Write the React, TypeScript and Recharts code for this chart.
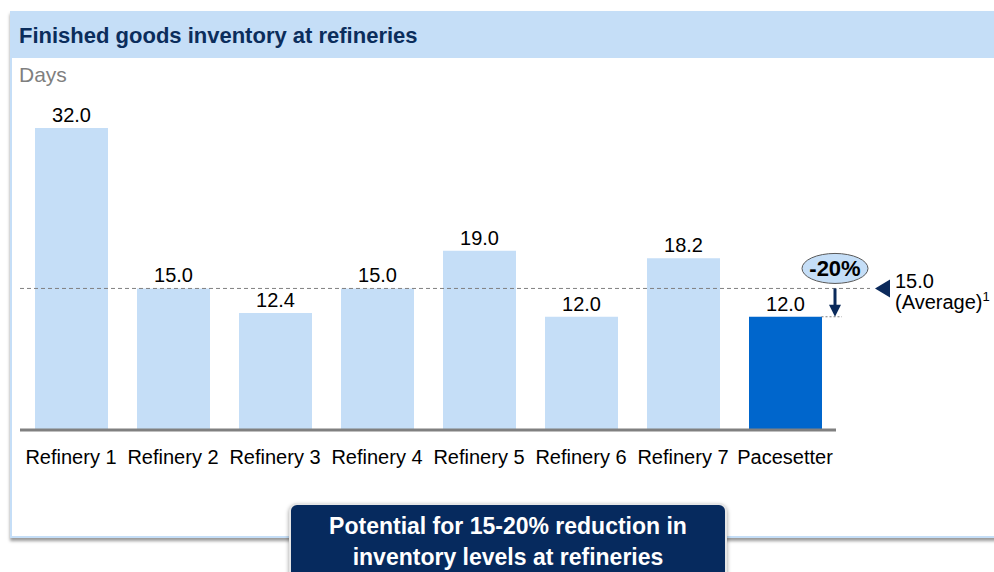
import { BarChart, Bar, XAxis, YAxis, Cell, LabelList, ReferenceLine } from 'recharts';

const categories = [
  'Refinery 1',
  'Refinery 2',
  'Refinery 3',
  'Refinery 4',
  'Refinery 5',
  'Refinery 6',
  'Refinery 7',
  'Pacesetter',
];
const inventoryDays = [32.0, 15.0, 12.4, 15.0, 19.0, 12.0, 18.2, 12.0];
const averageDays = 15.0;
const pacesetterDays = 12.0;
const reductionLabel = '-20%';

const LIGHT = '#C5DEF7';
const DARK = '#0066CC';
const NAVY = '#0B2A5B';
const FONT = '"Liberation Sans", Arial, sans-serif';
const BAR_SIZE = 73;

const data = categories.map((name, i) => ({ name, value: inventoryDays[i] }));

// dashed average line that runs past the plot, plus the pointer and label on the right
function AverageLine(props: any) {
  const { x1, x2, y1 } = props;
  return (
    <g>
      <line x1={x1} y1={y1} x2={x2 + 34} y2={y1} stroke="#808080" strokeWidth={1} strokeDasharray="4 3" />
      <polygon points={`${x2 + 39},${y1} ${x2 + 54},${y1 - 9} ${x2 + 54},${y1 + 9}`} fill={NAVY} />
      <text x={x2 + 59} y={y1 - 0.5} fontSize={20} fontFamily={FONT} fill="#000">
        {averageDays.toFixed(1)}
      </text>
      <text x={x2 + 59} y={y1 + 21} fontSize={20} fontFamily={FONT} fill="#000">
        (Average)
        <tspan fontSize={13} dy={-8}>1</tspan>
      </text>
    </g>
  );
}

// short dotted line from the pacesetter bar top
function PacesetterLine(props: any) {
  const { x1, x2, y1 } = props;
  const band = (x2 - x1) / categories.length;
  const barRight = x2 - (band - BAR_SIZE) / 2;
  return <line x1={barRight} y1={y1} x2={x2 + 6} y2={y1} stroke="#808080" strokeWidth={1} strokeDasharray="2 2" />;
}

// down arrow from average to pacesetter, with the -20% bubble
function ReductionArrow(props: any) {
  const { x1, y1, y2 } = props;
  const x = x1 - 1;
  return (
    <g>
      <line x1={x} y1={y1} x2={x} y2={y2 - 10} stroke={NAVY} strokeWidth={3} />
      <polygon points={`${x - 6},${y2 - 12} ${x + 6},${y2 - 12} ${x},${y2}`} fill={NAVY} />
      <ellipse cx={x} cy={y1 - 20} rx={33} ry={15} fill={LIGHT} stroke="#595959" strokeWidth={1} />
      <text x={x} y={y1 - 12} textAnchor="middle" fontSize={22} fontWeight="bold" fontFamily={FONT} fill="#000">
        {reductionLabel}
      </text>
    </g>
  );
}

export default function App() {
  return (
    <div
      style={{
        position: 'absolute',
        left: 0,
        top: 0,
        width: 994,
        height: 572,
        overflow: 'hidden',
        background: '#fff',
        fontFamily: FONT,
      }}
    >
      <div
        style={{
          position: 'absolute',
          left: 10,
          top: 11,
          width: 1000,
          height: 523,
          border: `2px solid ${LIGHT}`,
          boxShadow: '0 3px 3px rgba(0,0,0,0.4)',
          background: '#fff',
        }}
      >
        <div style={{ height: 45, background: LIGHT }}>
          <div
            style={{
              position: 'absolute',
              left: 7,
              top: 10,
              fontSize: 22,
              fontWeight: 'bold',
              color: '#0B2D5C',
              whiteSpace: 'nowrap',
            }}
          >
            Finished goods inventory at refineries
          </div>
        </div>
        <div style={{ position: 'absolute', left: 7, top: 50, fontSize: 21, color: '#7F7F7F' }}>Days</div>
      </div>

      <div style={{ position: 'absolute', left: 0, top: 0 }}>
        <BarChart width={994} height={572} data={data} margin={{ top: 128, right: 158, bottom: 112, left: 20 }}>
          <YAxis hide domain={[0, 32]} />
          <XAxis
            dataKey="name"
            height={30}
            interval={0}
            axisLine={{ stroke: '#808080', strokeWidth: 3 }}
            tickLine={false}
            tickSize={8}
            tickMargin={12}
            tick={{ fontSize: 20, fill: '#000', fontFamily: FONT }}
          />
          <Bar dataKey="value" barSize={BAR_SIZE} isAnimationActive={false}>
            {data.map((d) => (
              <Cell key={d.name} fill={d.name === 'Pacesetter' ? DARK : LIGHT} />
            ))}
            <LabelList
              dataKey="value"
              position="top"
              offset={6}
              formatter={(v: any) => Number(v).toFixed(1)}
              style={{ fontSize: 20, fill: '#000', fontFamily: FONT }}
            />
          </Bar>
          <ReferenceLine y={averageDays} shape={AverageLine} />
          <ReferenceLine y={pacesetterDays} shape={PacesetterLine} />
          <ReferenceLine
            segment={[
              { x: 'Pacesetter', y: averageDays },
              { x: 'Pacesetter', y: pacesetterDays },
            ]}
            position="end"
            shape={ReductionArrow}
          />
        </BarChart>
      </div>

      <div
        style={{
          position: 'absolute',
          left: 289,
          top: 503,
          width: 438,
          height: 90,
          boxSizing: 'border-box',
          background: '#062A5E',
          border: '2px solid #E6E6E6',
          borderRadius: 8,
          boxShadow: '0 2px 4px rgba(0,0,0,0.4)',
          color: '#fff',
          fontWeight: 'bold',
          fontSize: 23,
          lineHeight: '31px',
          textAlign: 'center',
          paddingTop: 6,
        }}
      >
        Potential for 15-20% reduction in
        <br />
        inventory levels at refineries
      </div>
    </div>
  );
}
